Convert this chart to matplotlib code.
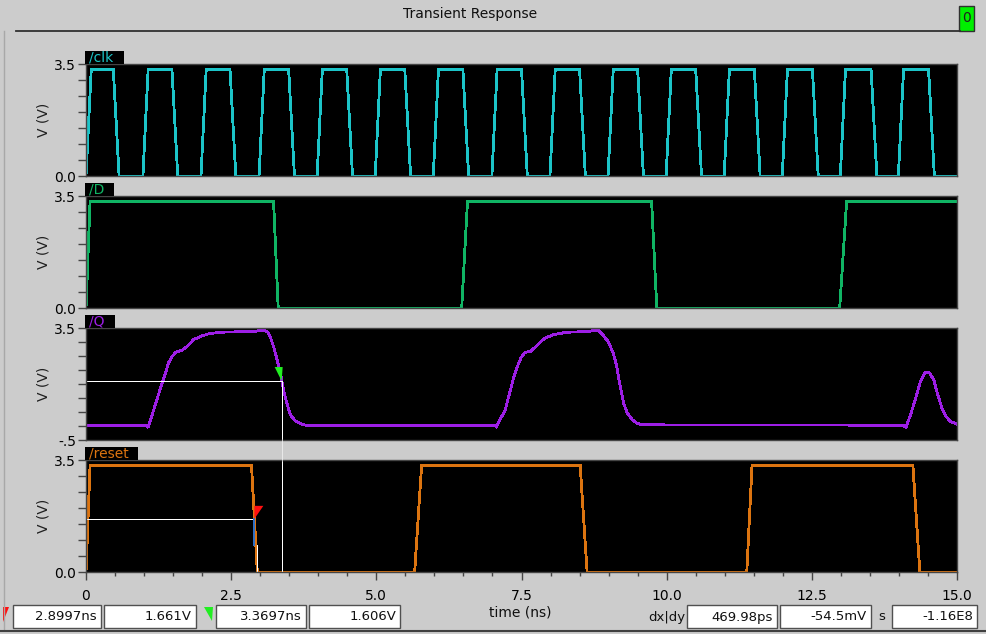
import matplotlib
matplotlib.use("Agg")
import matplotlib.pyplot as plt
from matplotlib.patches import Rectangle, Polygon
from matplotlib.lines import Line2D
from matplotlib.ticker import FixedLocator, FixedFormatter, MultipleLocator

W, H = 987, 634

# --- data (time in ns, voltage in V) ---
clk_rise = [0.00, 0.98, 1.98, 2.98, 3.98, 4.98, 5.98, 6.99, 7.99, 8.99,
            9.99, 10.99, 11.99, 12.99, 13.99]
clk_fall = [0.47, 1.48, 2.48, 3.49, 4.49, 5.49, 6.49, 7.50, 8.50, 9.50,
            10.50, 11.51, 12.51, 13.52, 14.51]
clk_high = 3.33

d_t = [0.0, 0.07, 3.23, 3.31, 6.47, 6.57, 9.74, 9.83, 12.98, 13.10, 15.0]
d_v = [0.0, 3.34, 3.34, 0.0, 0.0, 3.34, 3.34, 0.0, 0.0, 3.34, 3.34]

q_t = [0.0, 1.03, 1.07, 1.13, 1.22, 1.30, 1.36, 1.42, 1.48, 1.55, 1.65, 1.74,
       1.85, 1.97, 2.11, 2.31, 2.54, 2.91, 3.03, 3.12, 3.17, 3.23, 3.29, 3.35,
       3.40, 3.46, 3.52, 3.60, 3.72, 3.78,
       7.03, 7.07, 7.13, 7.22, 7.31, 7.37, 7.43, 7.49, 7.56, 7.66, 7.78, 7.90,
       8.05, 8.28, 8.64, 8.76, 8.83, 8.90, 8.99, 9.08, 9.14, 9.20, 9.26, 9.32,
       9.41, 9.49, 9.58,
       14.07, 14.12, 14.19, 14.28, 14.37, 14.45, 14.52, 14.60, 14.66, 14.75,
       14.81, 14.89, 15.0]
q_v = [0.03, 0.03, -0.05, 0.34, 0.93, 1.47, 1.83, 2.25, 2.48, 2.64, 2.70, 2.84,
       3.08, 3.20, 3.29, 3.35, 3.36, 3.38, 3.42, 3.38, 3.20, 2.84, 2.37, 1.89,
       1.29, 0.81, 0.40, 0.19, 0.06, 0.03,
       0.03, -0.03, 0.22, 0.58, 1.29, 1.77, 2.13, 2.43, 2.63, 2.67, 2.90, 3.14,
       3.26, 3.35, 3.37, 3.42, 3.41, 3.26, 3.02, 2.61, 2.13, 1.41, 0.81, 0.46,
       0.22, 0.10, 0.04,
       0.03, -0.05, 0.34, 0.93, 1.59, 1.91, 1.91, 1.65, 1.17, 0.58,
       0.34, 0.16, 0.07]

reset_t = [0.0, 0.07, 2.85, 2.95, 5.66, 5.78, 8.51, 8.63, 11.38, 11.47, 14.24, 14.36, 15.0]
reset_v = [0.0, 3.34, 3.34, 0.0, 0.0, 3.34, 3.34, 0.0, 0.0, 3.34, 3.34, 0.0, 0.0]

x_ticks = [0, 2.5, 5.0, 7.5, 10.0, 12.5, 15.0]
x_tick_labels = ['0', '2.5', '5.0', '7.5', '10.0', '12.5', '15.0']

cursor_a = (2.8997, 1.661)   # red cursor on /reset
cursor_b = (3.3697, 1.606)   # green cursor on /Q
readouts = ['2.8997ns', '1.661V', '3.3697ns', '1.606V', '469.98ps', '-54.5mV', '-1.16E8']

# build the clock polyline from its edges
clk_t, clk_v = [0.0], [0.0]
for r, f in zip(clk_rise, clk_fall):
    clk_t += [r, r + 0.09, f, f + 0.10]
    clk_v += [0.0, clk_high, clk_high, 0.0]
clk_t.append(15.0)
clk_v.append(0.0)


def fx(x):
    return x / W


def fy(y):
    return 1 - y / H


BG = '#cccccc'
EDGE = '#454545'
FS = 10
CUR_LW = 0.6

fig = plt.figure(figsize=(W / 100, H / 100), dpi=100, facecolor=BG)

panels = [
    ('/clk', '#1cc4c8', clk_t, clk_v, 64, 0.0, ['3.5', '0.0'], 39),
    ('/D', '#10b464', d_t, d_v, 196, 0.0, ['3.5', '0.0'], 29),
    ('/Q', '#9d1ee6', q_t, q_v, 328, -0.5, ['3.5', '-.5'], 30),
    ('/reset', '#dc7410', reset_t, reset_v, 460, 0.0, ['3.5', '0.0'], 53),
]

axes = []
for i, (name, col, t, v, top, ymin, ylabs, tabw) in enumerate(panels):
    ax = fig.add_axes([fx(86), fy(top + 112), fx(957) - fx(86), 112 / H])
    ax.set_facecolor('black')
    ax.plot(t, v, color=col, lw=1.3, antialiased=False, solid_joinstyle='miter')
    ax.set_xlim(0, 15)
    ax.set_ylim(ymin, 3.5)
    yt = [ymin + 0.5 * k for k in range(int(round((3.5 - ymin) / 0.5)) + 1)]
    ax.yaxis.set_major_locator(FixedLocator(yt))
    ax.yaxis.set_major_formatter(FixedFormatter([ylabs[1]] + [''] * (len(yt) - 2) + [ylabs[0]]))
    ax.tick_params(axis='y', direction='out', length=6, width=1, color=EDGE,
                   labelsize=FS, pad=1)
    for s in ax.spines.values():
        s.set_color(EDGE)
        s.set_linewidth(1)
    if i < 3:
        ax.set_xticks([])
    else:
        ax.set_xticks(x_ticks)
        ax.set_xticklabels(x_tick_labels)
        ax.xaxis.set_minor_locator(MultipleLocator(0.5))
        ax.tick_params(axis='x', which='major', direction='out', length=6, width=1,
                       color=EDGE, labelsize=FS, pad=6)
        ax.tick_params(axis='x', which='minor', direction='out', length=3, width=1,
                       color=EDGE)
    fig.text(fx(44), fy(top + 56), 'V (V)', rotation=90, ha='center', va='center',
             fontsize=FS, color='#202020')
    # name tab above the panel
    fig.patches.append(Rectangle((fx(85), fy(top)), tabw / W, 13 / H, transform=fig.transFigure,
                                 facecolor='black', edgecolor='none', zorder=5))
    fig.text(fx(89), fy(top - 6.5), name, color=col, fontsize=FS, ha='left',
             va='center', zorder=6)
    axes.append(ax)

ax_q, ax_r = axes[2], axes[3]

# cursor B (green) on /Q
ta, va = cursor_a
tb, vb = cursor_b
ax_q.plot([0, tb], [vb, vb], color='white', lw=CUR_LW, antialiased=False)
ax_q.plot([tb, tb], [vb, -0.5], color='white', lw=CUR_LW, antialiased=False)
ax_r.plot([tb, tb], [0, 3.5], color='white', lw=CUR_LW, antialiased=False)
xq, yq = ax_q.transData.transform((tb, -0.5))
xr, yr = ax_r.transData.transform((tb, 3.5))
fig.lines.append(Line2D([xq, xr], [yq, yr], color='#eeeeee', lw=CUR_LW, transform=None))

# cursor A (red) on /reset
ax_r.plot([0, ta], [va, va], color='white', lw=CUR_LW, antialiased=False)
ax_r.plot([ta + 0.04, ta + 0.04], [0.84, 0], color='white', lw=CUR_LW, antialiased=False)
ax_r.plot([ta, ta], [va, 0.84], color='#2f6fc4', lw=1.3, antialiased=False)

# cursor flags
px, py = ax_q.transData.transform((tb, vb))
fig.patches.append(Polygon([(px - 7, py + 14), (px + 1, py + 14), (px, py)],
                           closed=True, transform=None, facecolor='#22ee22',
                           edgecolor='none', zorder=6))
px, py = ax_r.transData.transform((ta, va))
fig.patches.append(Polygon([(px, py + 13), (px + 9, py + 13), (px, py)],
                           closed=True, transform=None, facecolor='#ff1010',
                           edgecolor='none', zorder=6))

# title bar
fig.text(fx(470), fy(14), 'Transient Response', ha='center', va='center',
         fontsize=FS, color='#101010')
fig.lines.append(Line2D([fx(16), fx(960)], [fy(31), fy(31)], color='#303030', lw=1.3,
                        transform=fig.transFigure))
fig.patches.append(Rectangle((fx(959), fy(31)), 15 / W, 25 / H, transform=fig.transFigure,
                             facecolor='#00f000', edgecolor='#303030', lw=1))
fig.text(fx(966.5), fy(18.5), '0', ha='center', va='center', fontsize=FS, color='#202020')

# left frame line and bottom separator
fig.lines.append(Line2D([fx(4), fx(4)], [fy(31), fy(630)], color='#a8a8a8', lw=1,
                        transform=fig.transFigure))
fig.lines.append(Line2D([0, 1], [fy(630.5), fy(630.5)], color='#404040', lw=1.5,
                        transform=fig.transFigure))

# readout boxes
boxes = [(13, 101), (104, 196), (216, 306), (309, 400), (687, 777), (780, 871), (892, 977)]
for (x0, x1), txt in zip(boxes, readouts):
    fig.patches.append(Rectangle((fx(x0), fy(628)), (x1 - x0) / W, 23 / H,
                                 transform=fig.transFigure, facecolor='white',
                                 edgecolor='#505050', lw=1))
    fig.text(fx(x1 - 4), fy(617), txt, ha='right', va='center', fontsize=FS - 0.5,
             color='#101010')

fig.patches.append(Polygon([(fx(3), fy(607)), (fx(9), fy(607)), (fx(3), fy(622))],
                           closed=True, transform=fig.transFigure, facecolor='#ff1010',
                           edgecolor='none'))
fig.patches.append(Polygon([(fx(204), fy(607)), (fx(213), fy(607)), (fx(212), fy(621))],
                           closed=True, transform=fig.transFigure, facecolor='#22ee22',
                           edgecolor='none'))

fig.text(fx(520), fy(612), 'time (ns)', ha='center', va='center', fontsize=FS, color='#101010')
fig.text(fx(667), fy(617), 'dx|dy', ha='center', va='center', fontsize=FS - 0.5, color='#101010')
fig.text(fx(882), fy(617), 's', ha='center', va='center', fontsize=FS - 0.5, color='#101010')

fig.savefig('out.png', dpi=100, facecolor=BG)
